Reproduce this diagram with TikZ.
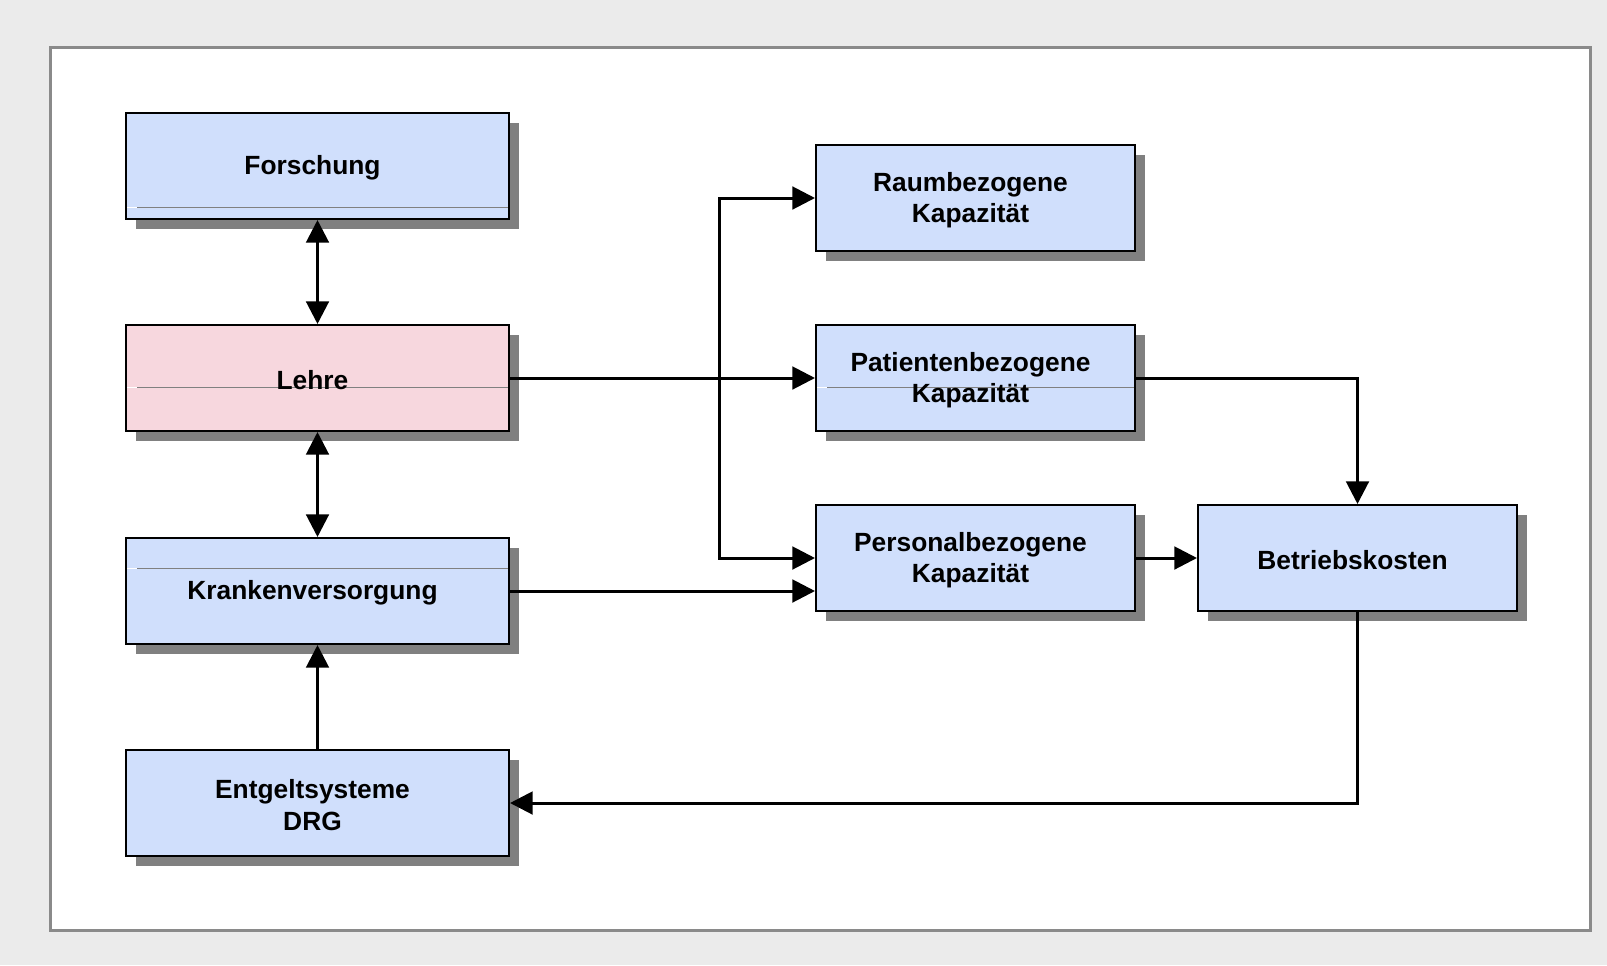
\documentclass[tikz,border=0pt]{standalone}
\usepackage{fontspec}
\setmainfont{Liberation Sans}
\usetikzlibrary{arrows.meta,shadows}
\definecolor{bluefill}{RGB}{208,223,252}
\definecolor{pinkfill}{RGB}{247,215,222}
\definecolor{shgray}{RGB}{128,128,128}
\definecolor{bggray}{RGB}{235,235,235}
\definecolor{framegray}{RGB}{138,138,138}
\begin{document}
\begin{tikzpicture}[x=0.75pt,y=-0.75pt,
  >={Triangle[length=17pt,width=17pt]},
  textlbl/.style={align=center, inner sep=0pt, xshift=-3.75pt, yshift=-1.5pt,
    font=\fontsize{19.75}{23.6}\selectfont\bfseries},
  txt/.style={label={[textlbl]center:#1}},
  box/.style={draw=black, line width=1.5pt, fill=bluefill, anchor=north west,
    minimum height=79.5pt, inner sep=0pt,
    drop shadow={shadow xshift=7.5pt, shadow yshift=-7.5pt, fill=shgray, opacity=1, draw=none}},
  leftbox/.style={box, minimum width=287.25pt},
  rightbox/.style={box, minimum width=239.25pt},
  artline/.style={path picture={
    \draw[shgray, line width=0.75pt] ([xshift=8.25pt,yshift=#1]path picture bounding box.south west) -- ([yshift=#1]path picture bounding box.south east);
    \draw[white, line width=0.75pt] ([yshift=#1]path picture bounding box.south west) -- ++(8.25pt,0);}},
  conn/.style={line width=2.25pt}]
\useasboundingbox (0,0) rectangle (1607,965);
\fill[bggray] (0,0) rectangle (1607,965);
\draw[framegray, line width=2.25pt, fill=white] (50,47) rectangle (1590,930);

\node[leftbox, artline=9pt, txt={Forschung}] (fo) at (125,112) {};
\node[leftbox, fill=pinkfill, artline=33pt, txt={Lehre}] (le) at (125,324) {};
\node[leftbox, artline=57pt, txt={Krankenversorgung}] (kr) at (125,537) {};
\node[leftbox, txt={Entgeltsysteme\\DRG}] (en) at (125,749) {};
\node[rightbox, txt={Raumbezogene\\Kapazität}] (ra) at (815,144) {};
\node[rightbox, artline=33pt, txt={Patientenbezogene\\Kapazität}] (pa) at (815,324) {};
\node[rightbox, txt={Personalbezogene\\Kapazität}] (pe) at (815,504) {};
\node[rightbox, txt={Betriebskosten}] (be) at (1197,504) {};

\draw[conn,<->] (fo.south) -- (le.north);
\draw[conn,<->] (le.south) -- (kr.north);
\draw[conn,->] (en.north) -- (kr.south);
\draw[conn,->] (le.east) -- (pa.west);
\draw[conn,->] (kr.east) -- (kr.east -| pe.west);
\draw[conn,<->] (ra.west) -- ++(-96,0) |- (pe.west);
\draw[conn,->] (pa.east) -| (be.north);
\draw[conn,->] (pe.east) -- (be.west);
\draw[conn,->] (be.south) |- (en.east);
\end{tikzpicture}
\end{document}
